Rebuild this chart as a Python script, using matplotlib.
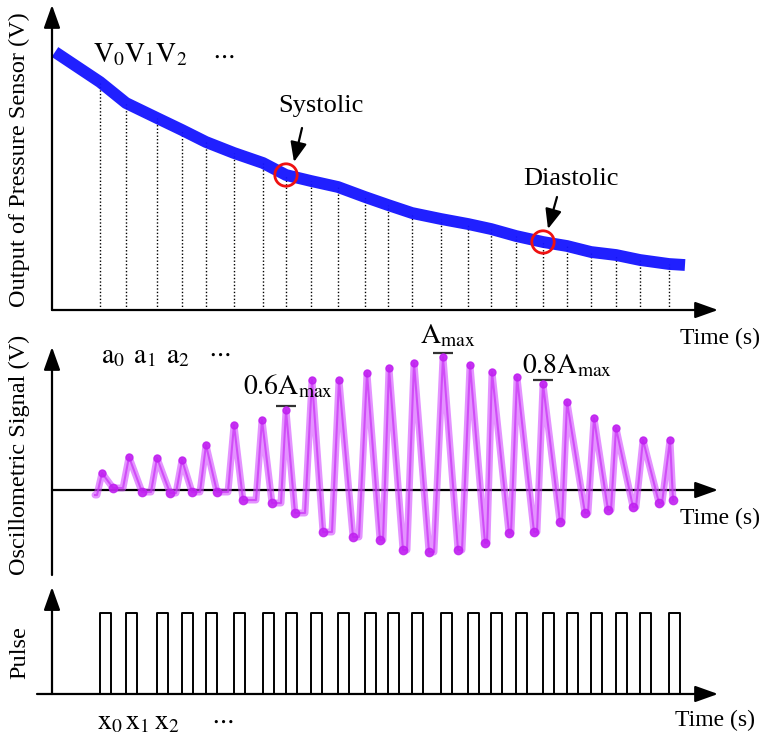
import numpy as np
import matplotlib
matplotlib.use("Agg")
import matplotlib.pyplot as plt

plt.rcParams['font.family'] = ['Liberation Serif', 'DejaVu Serif']
plt.rcParams['mathtext.fontset'] = 'stix'

# beat (cuff pulse) onset times, s
beat_t = [2.40, 3.70, 5.25, 6.50, 7.70, 9.10, 10.55, 11.70, 12.95, 14.30, 15.65, 16.80,
          18.00, 19.45, 20.80, 21.95, 23.20, 24.55, 25.75, 26.95, 28.20, 29.40, 30.85]
pulse_width = 0.55

# cuff pressure sensor output (V): first / last entries are the ends of the trace,
# the ones in between are read at each beat
press_t = [0.15] + beat_t + [31.65]
press_v = [2.58, 2.28, 2.07, 1.92, 1.80, 1.68, 1.57, 1.47, 1.35, 1.29, 1.23, 1.13, 1.05,
           0.97, 0.91, 0.86, 0.81, 0.74, 0.68, 0.64, 0.58, 0.55, 0.50, 0.46, 0.45]
sys_idx, dia_idx = 7, 17

# oscillometric signal (V): upstroke start, peak and trough of every beat
rise_t = [2.25, 3.55, 4.95, 6.20, 7.40, 8.80, 10.20, 11.45, 12.65, 14.00, 15.35, 16.55,
          17.75, 19.10, 20.50, 21.75, 22.95, 24.25, 25.50, 26.80, 27.95, 29.20, 30.50]
peak_t = [2.50, 3.85, 5.25, 6.50, 7.70, 9.10, 10.50, 11.70, 13.00, 14.35, 15.75, 16.85,
          18.10, 19.55, 20.90, 22.00, 23.25, 24.55, 25.75, 27.10, 28.20, 29.55, 30.90]
peak_v = [0.17, 0.33, 0.32, 0.30, 0.45, 0.65, 0.70, 0.80, 1.10, 1.10, 1.17, 1.22,
          1.27, 1.33, 1.25, 1.18, 1.13, 1.06, 0.88, 0.72, 0.62, 0.50, 0.50]
trough_t = [3.05, 4.50, 5.90, 7.00, 8.25, 9.55, 11.00, 12.15, 13.55, 15.05, 16.40, 17.55,
            18.85, 20.30, 21.65, 22.85, 24.10, 25.40, 26.65, 27.80, 29.05, 30.35, 31.05]
trough_v = [0.02, -0.02, -0.03, -0.02, -0.02, -0.10, -0.13, -0.23, -0.42, -0.47, -0.50, -0.60,
            -0.62, -0.60, -0.53, -0.43, -0.42, -0.32, -0.23, -0.20, -0.17, -0.13, -0.10]
osc_start = (2.15, -0.05)
amax_idx = int(np.argmax(peak_v))

xlim = (-2.6, 35.6)
t_end = 33.3

fig = plt.figure(figsize=(7.64, 7.37), dpi=100)
ax1 = fig.add_axes([0, 0.5658, 1, 0.4342])
ax2 = fig.add_axes([0, 0.2198, 1, 0.3460])
ax3 = fig.add_axes([0, 0.0, 1, 0.2198])
ax1.set_ylim(-0.1, 3.1)
ax2.set_ylim(-0.85, 1.70)
ax3.set_ylim(-0.531, 1.469)
for ax in (ax1, ax2, ax3):
    ax.set_xlim(*xlim)
    ax.axis('off')

arrow = dict(arrowstyle='-|>,head_length=0.7,head_width=0.25', lw=1.6, color='black',
             mutation_scale=20, shrinkA=0, shrinkB=0)
small_arrow = dict(arrowstyle='-|>,head_length=0.6,head_width=0.25', lw=1.6, color='black',
                   mutation_scale=20, shrinkA=0, shrinkB=0)


def draw_axes(ax, x0, y0, y_bottom, y_top):
    ax.annotate('', xy=(t_end, y0), xytext=(x0, y0), arrowprops=arrow)
    ax.annotate('', xy=(0, y_top), xytext=(0, y_bottom), arrowprops=arrow)


# --- pressure sensor output ---
draw_axes(ax1, 0, 0, 0, 3.05)
for t, v in zip(beat_t, press_v[1:-1]):
    ax1.plot([t, t], [0, v], color='black', lw=1.0, ls=(0, (1, 1.5)))
ax1.plot(press_t, press_v, color='#1414ff', lw=8.5, solid_capstyle='butt',
         solid_joinstyle='round', alpha=0.95)
ax1.scatter([beat_t[sys_idx], beat_t[dia_idx]], [press_v[sys_idx + 1], press_v[dia_idx + 1]],
            s=260, facecolors='none', edgecolors='#ee1111', linewidths=2, zorder=5)
ax1.text(2.05, 2.55, r'$\mathrm{V}_0\mathrm{V}_1\mathrm{V}_2$', fontsize=20, ha='left', va='center')
ax1.text(8.55, 2.54, r'$\cdots$', fontsize=18, ha='center', va='center')
ax1.text(13.45, 2.04, 'Systolic', fontsize=19, ha='center', va='center')
ax1.annotate('', xy=(12.1, 1.48), xytext=(12.5, 1.82), arrowprops=small_arrow)
ax1.text(25.95, 1.31, 'Diastolic', fontsize=19, ha='center', va='center')
ax1.annotate('', xy=(24.8, 0.81), xytext=(25.25, 1.13), arrowprops=small_arrow)
ax1.text(33.4, -0.28, 'Time (s)', fontsize=17, ha='center', va='center')

# --- oscillometric signal ---
draw_axes(ax2, 0, 0, -0.85, 1.43)
wt, wv = [osc_start[0]], [osc_start[1]]
prev_v = osc_start[1]
for r, pt, pv, tt, tv in zip(rise_t, peak_t, peak_v, trough_t, trough_v):
    wt += [r, pt, tt]
    wv += [prev_v, pv, tv]
    prev_v = tv
ax2.plot(wt, wv, color='#d24bff', lw=5, alpha=0.6, solid_joinstyle='round',
         solid_capstyle='round', zorder=3)
ax2.plot(wt, wv, color='#c830f5', lw=1.5, alpha=0.7, zorder=3)
ax2.plot(peak_t, peak_v, 'o', color='#c020f0', ms=5, alpha=0.85, zorder=3)
ax2.plot(trough_t, trough_v, 'o', color='#c020f0', ms=6, alpha=0.85, zorder=3)
for i in (sys_idx, amax_idx, dia_idx):
    ax2.plot(peak_t[i], peak_v[i] + 0.04, marker='_', ms=14, mew=1.6, color='#333333')
ax2.text(2.45, 1.33, r'$\mathrm{a}_0\;\,\mathrm{a}_1\;\,\mathrm{a}_2$', fontsize=20,
         ha='left', va='center')
ax2.text(8.35, 1.36, r'$\cdots$', fontsize=18, ha='center', va='center')
ax2.text(9.55, 1.03, r'$0.6\mathrm{A}_{\mathrm{max}}$', fontsize=20, ha='left', va='center')
ax2.text(18.4, 1.54, r'$\mathrm{A}_{\mathrm{max}}$', fontsize=20, ha='left', va='center')
ax2.text(23.5, 1.24, r'$0.8\mathrm{A}_{\mathrm{max}}$', fontsize=20, ha='left', va='center')
ax2.text(33.4, -0.28, 'Time (s)', fontsize=17, ha='center', va='center')

# --- pulse train ---
draw_axes(ax3, -0.75, 0, 0, 1.32)
px, py = [], []
for t in beat_t:
    px += [t, t, t + pulse_width, t + pulse_width]
    py += [0, 1, 1, 0]
ax3.plot(px, py, color='black', lw=1.4)
ax3.text(2.25, -0.36, r'$\mathrm{x}_0\,\mathrm{x}_1\,\mathrm{x}_2$', fontsize=20, ha='left', va='center')
ax3.text(8.5, -0.33, r'$\cdots$', fontsize=18, ha='center', va='center')
ax3.text(33.15, -0.33, 'Time (s)', fontsize=17, ha='center', va='center')

fig.text(0.026, 0.783, 'Output of Pressure Sensor (V)', fontsize=17.5, rotation=90, ha='center', va='center')
fig.text(0.026, 0.383, 'Oscillometric Signal (V)', fontsize=17.5, rotation=90, ha='center', va='center')
fig.text(0.026, 0.115, 'Pulse', fontsize=17.5, rotation=90, ha='center', va='center')

fig.savefig('out.png', dpi=100)
